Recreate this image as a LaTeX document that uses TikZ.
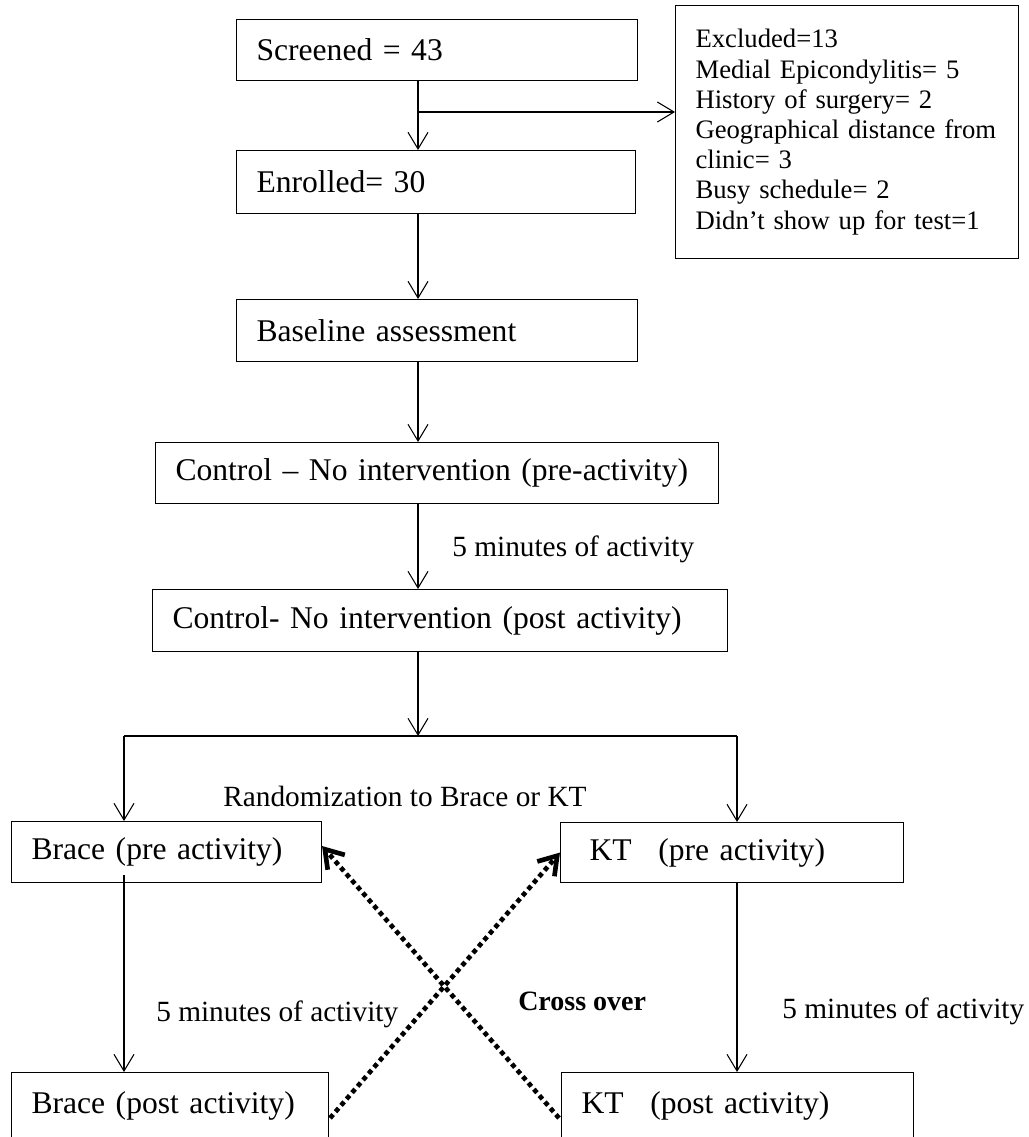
\documentclass[tikz,border=0pt]{standalone}
\usepackage{fontspec}
\setmainfont{Liberation Serif}
\usetikzlibrary{arrows.meta}

\tikzset{
  flowbox/.style={draw, line width=0.8pt, anchor=north west, align=left, inner xsep=15pt, inner ysep=0pt, font=\fontsize{23.7}{28}\selectfont},
  flowarrow/.style={line width=0.8pt, -{Straight Barb[length=12.5pt,width=15pt,line width=0.8pt]}},
  crossarrow/.style={line width=3.5pt, dash pattern=on 3.5pt off 2.8pt, -{Straight Barb[length=13pt,width=17pt,line width=3.5pt]}},
  steplabel/.style={anchor=base west, inner sep=0pt, font=\fontsize{22}{26}\selectfont},
}

\begin{document}
\begin{tikzpicture}[x=0.75pt,y=0.75pt,yscale=-1,xscale=1]
\useasboundingbox (0,0) rectangle (1028,1137);
\clip (0,0) rectangle (1028,1137);

%Shape: Rectangle [screened]
\node[flowbox, text width=270.75pt, minimum height=45.75pt] (screened) at (236,19) {Screened = 43};
%Shape: Rectangle [enrolled]
\node[flowbox, text width=269.25pt, minimum height=47.25pt] (enrolled) at (236,150) {Enrolled= 30};
%Shape: Rectangle [excluded]
\node[flowbox, text width=227.25pt, minimum height=189.75pt, font=\fontsize{20}{22.65}\selectfont] (excluded) at (675,5)
  {Excluded=13\\Medial Epicondylitis= 5\\History of surgery= 2\\Geographical distance from\\clinic= 3\\Busy schedule= 2\\Didn’t show up for test=1};
%Shape: Rectangle [baseline]
\node[flowbox, text width=270.75pt, minimum height=46.5pt] (baseline) at (236,299) {Baseline assessment};
%Shape: Rectangle [control pre]
\node[flowbox, text width=392.25pt, minimum height=45.75pt] (ctrlpre) at (155,442) {Control – No intervention (pre-activity)};
%Shape: Rectangle [control post]
\node[flowbox, text width=401.25pt, minimum height=46.5pt] (ctrlpost) at (152,589) {Control- No intervention (post activity)};
%Shape: Rectangle [brace / kt]
\node[flowbox, text width=202.5pt, minimum height=45.75pt] (bracepre) at (11,821) {Brace (pre activity)};
\node[flowbox, text width=227.25pt, minimum height=45pt] (ktpre) at (560,822) {\hspace{6.75pt}KT\hspace{20pt}(pre activity)};
\node[flowbox, text width=207.75pt, minimum height=49.5pt] (bracepost) at (11,1072) {Brace (post activity)};
\node[flowbox, text width=234pt, minimum height=49.5pt] (ktpost) at (561,1072) {KT\hspace{20pt}(post activity)};

%Branch points
\coordinate (trunk) at (418,0);
\coordinate (split) at (418,112);
\coordinate (fork) at (418,736);
\coordinate (forkleft) at (124,736);
\coordinate (forkright) at (737,736);

%Straight Lines
\draw[flowarrow] (screened.south -| trunk) -- (enrolled.north -| trunk);
\draw[flowarrow] (split) -- (split -| excluded.west);
\draw[flowarrow] (enrolled.south -| trunk) -- (baseline.north -| trunk);
\draw[flowarrow] (baseline.south -| trunk) -- (ctrlpre.north -| trunk);
\draw[flowarrow] (ctrlpre.south -| trunk) -- (ctrlpost.north -| trunk);
\draw[flowarrow] (ctrlpost.south -| trunk) -- (fork);
\draw[line width=0.8pt] (forkleft) -- (forkright);
\draw[flowarrow] (forkleft) -- (forkleft |- bracepre.north);
\draw[flowarrow] (forkright) -- (forkright |- ktpre.north);
\draw[flowarrow] (bracepre.south -| forkleft) ++(0,-8) -- (bracepost.north -| forkleft);
\draw[flowarrow] (ktpre.south -| forkright) -- (ktpost.north -| forkright);

%Cross over arrows
\draw[crossarrow] ([shift={(1,-21)}]bracepost.south east) -- (ktpre.west);
\draw[crossarrow] ([shift={(-2,-21)}]ktpost.south west) -- ([yshift=-4.5pt]bracepre.east);

% Text Node
\node[steplabel] (act1) at (452,556) {5 minutes of activity};
% Text Node
\node[steplabel] (rand) at (223,806) {Randomization to Brace or KT};
% Text Node
\node[steplabel] (act2) at (156,1021) {5 minutes of activity};
% Text Node
\node[steplabel, font=\fontsize{21}{25}\selectfont\bfseries] (cross) at (518,1010) {Cross over};
% Text Node
\node[steplabel] (act3) at (782,1018) {5 minutes of activity};

\end{tikzpicture}
\end{document}
